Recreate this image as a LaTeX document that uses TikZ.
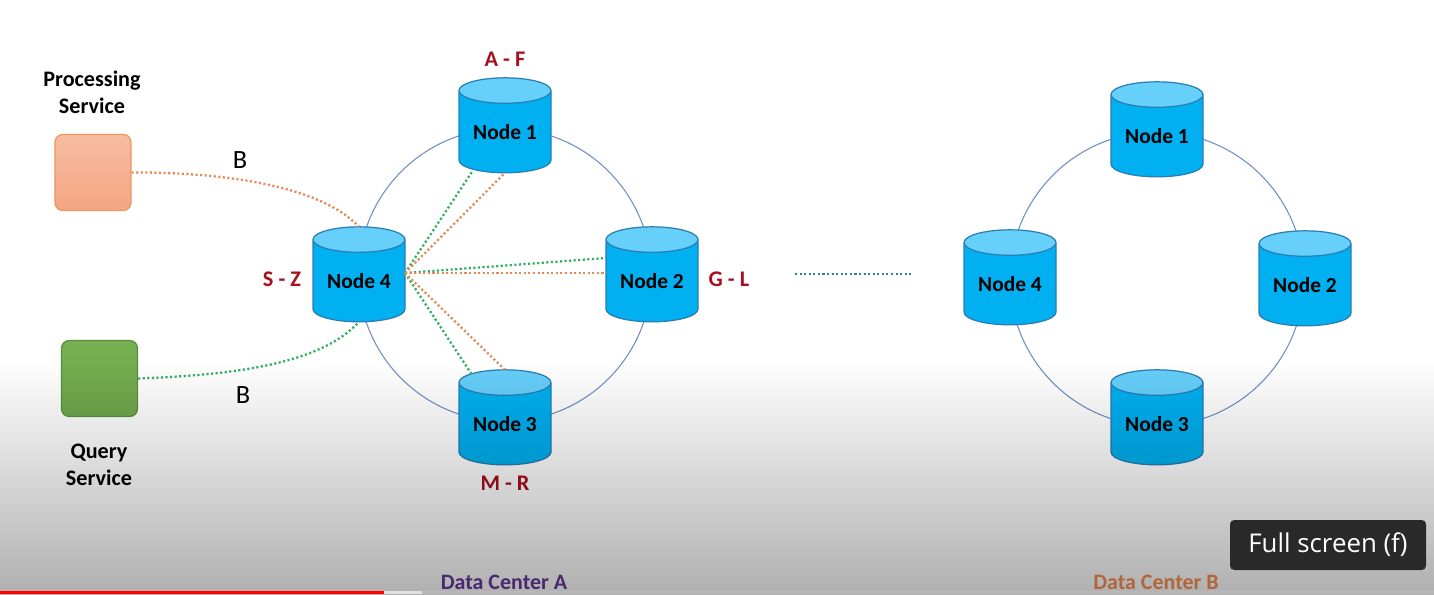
\documentclass[tikz,border=0pt]{standalone}
\usepackage{fontspec}
\setmainfont{Carlito}
\newfontfamily\tipfont{Open Sans}
\usetikzlibrary{shapes.geometric,calc}
\definecolor{lidblue}{HTML}{66CFFA}
\definecolor{bodyblue}{HTML}{00B0F0}
\definecolor{edgeblue}{HTML}{2A7DB5}
\definecolor{ringblue}{HTML}{6F8FC4}
\definecolor{dotorange}{HTML}{E58A55}
\definecolor{dotgreen}{HTML}{30B060}
\definecolor{rangered}{HTML}{A80F1C}
\definecolor{dcpurple}{HTML}{683A9E}
\definecolor{dcorange}{HTML}{FB9053}
\definecolor{proctop}{HTML}{F6BCA1}
\definecolor{procbottom}{HTML}{F5A582}
\definecolor{procedge}{HTML}{F0935F}
\definecolor{querytop}{HTML}{76B050}
\definecolor{querybottom}{HTML}{70A74C}
\definecolor{queryedge}{HTML}{5B8F3D}
\tikzset{dbnode/.style={cylinder, shape border rotate=90, draw=edgeblue, line width=0.35pt,
         cylinder uses custom fill, cylinder body fill=bodyblue, cylinder end fill=lidblue,
         aspect=0.4, minimum width=0.92cm, minimum height=0.95cm, inner sep=0pt, outer sep=0pt,
         font=\fontsize{6.1}{7}\selectfont\bfseries, text=black},
         ranged/.style={font=\fontsize{6.35}{7.5}\selectfont\bfseries, text=rangered},
         service/.style={font=\fontsize{6.3}{7.6}\selectfont\bfseries, align=center},
         letter/.style={font=\fontsize{7.5}{8}\selectfont},
         center label/.style={font=\fontsize{6.25}{7.5}\selectfont\bfseries},
         servicebox/.style={rounded corners=2.2pt, line width=0.35pt, minimum size=0.76cm, inner sep=0pt},
         ringline/.style={draw=ringblue, line width=0.3pt},
         linkdots/.style={line width=0.65pt, dash pattern=on 0.6pt off 0.7pt}}

\begin{document}
\begin{tikzpicture}
  \useasboundingbox (0,0) rectangle (14.34,5.94);
  \fill[white] (0,0) rectangle (14.34,5.94);

  \draw[ringline] (5.05,3.19) circle (1.465);
  \draw[ringline] (11.57,3.15) circle (1.47);

  \node[dbnode] (a1) at (5.05,4.62) {Node 1};
  \node[dbnode] (a2) at (6.52,3.13) {Node 2};
  \node[dbnode] (a3) at (5.05,1.70) {Node 3};
  \node[dbnode] (a4) at (3.59,3.13) {Node 4};
  \node[dbnode] (b1) at (11.57,4.58) {Node 1};
  \node[dbnode] (b2) at (13.05,3.09) {Node 2};
  \node[dbnode] (b3) at (11.57,1.70) {Node 3};
  \node[dbnode] (b4) at (10.10,3.10) {Node 4};

  \node[ranged] (rangeA) at (5.05,5.35) {A - F};
  \node[ranged] (rangeG) at (7.29,3.15) {G - L};
  \node[ranged] (rangeM) at (5.05,1.11) {M - R};
  \node[ranged] (rangeS) at (2.82,3.15) {S - Z};

  \node[servicebox, draw=procedge, top color=proctop, bottom color=procbottom] (procbox) at (0.93,4.215) {};
  \node[servicebox, draw=queryedge, top color=querytop, bottom color=querybottom] (querybox) at (0.995,2.155) {};
  \node[service] (proclabel) at (0.92,5.02) {Processing\\Service};
  \node[service] (querylabel) at (0.99,1.29) {Query\\Service};
  \node[letter] (bproc) at (2.40,4.34) {B};
  \node[letter] (bquery) at (2.43,1.99) {B};

  \coordinate (hub) at ($(a4.east)+(0,0.08)$);

  \draw[linkdots, dotorange] (procbox.east) .. controls (2.2,4.22) and (3.2,4.09) .. (a4.north);
  \draw[linkdots, dotgreen] (querybox.east) .. controls (2.3,2.19) and (3.2,2.29) .. (a4.south);

  \draw[linkdots, dotgreen] (hub) -- ($(a1.south)+(-0.33,0.01)$);
  \draw[linkdots, dotorange] (hub) -- (a1.south);
  \draw[linkdots, dotgreen] (hub) -- ($(a2.west)+(0,0.23)$);
  \draw[linkdots, dotorange] (hub) -- ($(a2.west)+(0,0.08)$);
  \draw[linkdots, dotgreen] (hub) -- ($(a3.north)+(-0.33,-0.05)$);
  \draw[linkdots, dotorange] (hub) -- (a3.north);

  \coordinate (gapL) at (7.95,3.20);
  \coordinate (gapR) at (9.11,3.20);
  \draw[linkdots, line width=0.4pt, edgeblue] (gapL) -- (gapR);

  \node[center label, text=dcpurple] (dca) at (5.04,0.12) {Data Center A};
  \node[center label, text=dcorange] (dcb) at (11.56,0.12) {Data Center B};

  \begin{scope}[blend mode=multiply]
    \shade[top color=white, bottom color=black!31] (0,0) rectangle (14.34,2.34);
  \end{scope}

  \fill[black!28] (4.22,0) rectangle (14.34,0.03);
  \fill[black!12] (3.84,0) rectangle (4.22,0.03);
  \fill[red] (0,0) rectangle (3.84,0.03);

  \node[fill=black!84, rounded corners=1.2pt, text=white, minimum width=1.96cm, minimum height=0.50cm,
        inner sep=0pt, font=\tipfont\fontsize{7.35}{8}\selectfont] (fulltip) at (13.28,0.49) {Full screen (f)};
\end{tikzpicture}
\end{document}
